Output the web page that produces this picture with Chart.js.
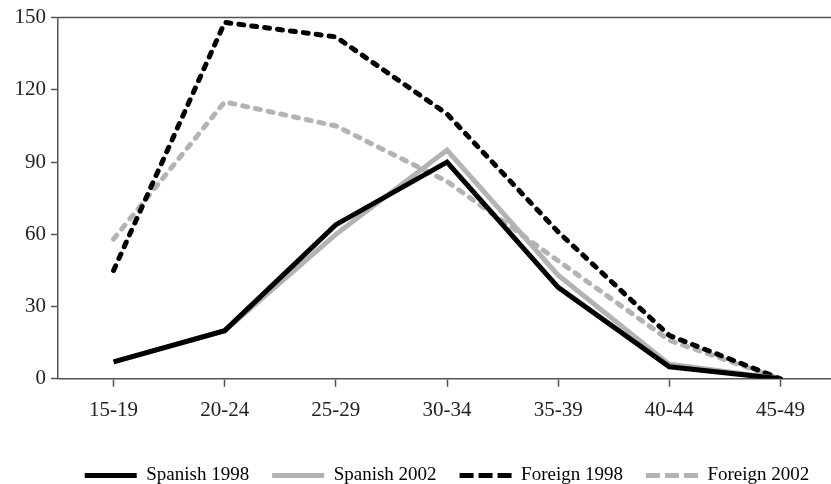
<!DOCTYPE html>
<html>
<head>
<meta charset="utf-8">
<script src="https://cdn.jsdelivr.net/npm/chart.js@4/dist/chart.umd.min.js"></script>
<style>
  body { margin: 0; background: #fff; overflow: hidden; }
  #wrap { width: 836px; height: 484px; }
</style>
</head>
<body>
<div id="wrap"><canvas id="fertChart"></canvas></div>
<script>
const ageGroups = ["15-19", "20-24", "25-29", "30-34", "35-39", "40-44", "45-49"];
const spanish1998 = [7, 20, 64, 90, 38, 5, 0];
const spanish2002 = [7, 20, 60, 95, 43, 6, 0];
const foreign1998 = [45, 148, 142, 110, 61, 18, 0];
const foreign2002 = [58, 115, 105, 82, 49, 16, 0];
const yTicks = [0, 30, 60, 90, 120, 150];

const serif = "'Liberation Serif', 'DejaVu Serif', serif";

// line across the top of the plot area, legend centred under the plot
const frameTweaks = {
  id: "frameTweaks",
  afterLayout(chart) {
    chart.legend.left += chart.chartArea.left;
  },
  afterDraw(chart) {
    const { ctx, chartArea } = chart;
    ctx.save();
    ctx.strokeStyle = "#555";
    ctx.lineWidth = 1.5;
    ctx.beginPath();
    ctx.moveTo(chartArea.left, chartArea.top);
    ctx.lineTo(chartArea.right, chartArea.top);
    ctx.stroke();
    ctx.restore();
  },
};

const makeLine = (label, data, color, dashed) => ({
  label: label,
  data: data,
  borderColor: color,
  backgroundColor: color,
  borderWidth: 5,
  borderDash: dashed ? [5, 8] : [],
  borderCapStyle: dashed ? "round" : "butt",
  borderJoinStyle: "miter",
  pointRadius: 0,
  tension: 0,
  fill: false,
  legendDash: dashed ? [14, 5] : [],
});

const ctx = document.getElementById("fertChart");

// first dataset is painted on top
new Chart(ctx, {
  type: "line",
  data: {
    labels: ageGroups,
    datasets: [
      makeLine("Spanish 1998", spanish1998, "#000", false),
      makeLine("Spanish 2002", spanish2002, "#b3b3b3", false),
      makeLine("Foreign 1998", foreign1998, "#000", true),
      makeLine("Foreign 2002", foreign2002, "#b3b3b3", true),
    ],
  },
  options: {
    responsive: true,
    maintainAspectRatio: false,
    animation: false,
    layout: { padding: { top: 6, bottom: -11, left: 0, right: 0 } },
    plugins: {
      tooltip: { enabled: false },
      legend: {
        position: "bottom",
        labels: {
          font: { family: serif, size: 19 },
          color: "#222",
          usePointStyle: true,
          pointStyleWidth: 52,
          padding: 23,
          generateLabels(chart) {
            return chart.data.datasets.map((d, i) => ({
              text: d.label,
              datasetIndex: i,
              strokeStyle: d.borderColor,
              fillStyle: d.borderColor,
              lineWidth: 5,
              lineDash: d.legendDash,
              lineCap: "butt",
              pointStyle: "line",
              hidden: false,
            }));
          },
        },
      },
    },
    scales: {
      x: {
        offset: true,
        afterFit(scale) {
          scale.height += 9;
        },
        grid: {
          display: true,
          offset: false,
          drawOnChartArea: false,
          drawTicks: true,
          tickLength: 8,
          tickColor: "#555",
          tickWidth: 1.5,
        },
        border: { display: true, color: "#555", width: 1.5 },
        ticks: {
          font: { family: serif, size: 21 },
          color: "#222",
          padding: 11,
          maxRotation: 0,
        },
      },
      y: {
        min: 0,
        max: 150,
        afterBuildTicks(axis) {
          axis.ticks = yTicks.map((v) => ({ value: v }));
        },
        afterFit(scale) {
          scale.width = 58;
        },
        grid: {
          display: true,
          drawOnChartArea: false,
          drawTicks: true,
          tickLength: 7,
          tickColor: "#555",
          tickWidth: 1.5,
        },
        border: { display: true, color: "#555", width: 1.5 },
        ticks: {
          font: { family: serif, size: 21 },
          color: "#222",
          padding: 5,
        },
      },
    },
  },
  plugins: [frameTweaks],
});
</script>
</body>
</html>
